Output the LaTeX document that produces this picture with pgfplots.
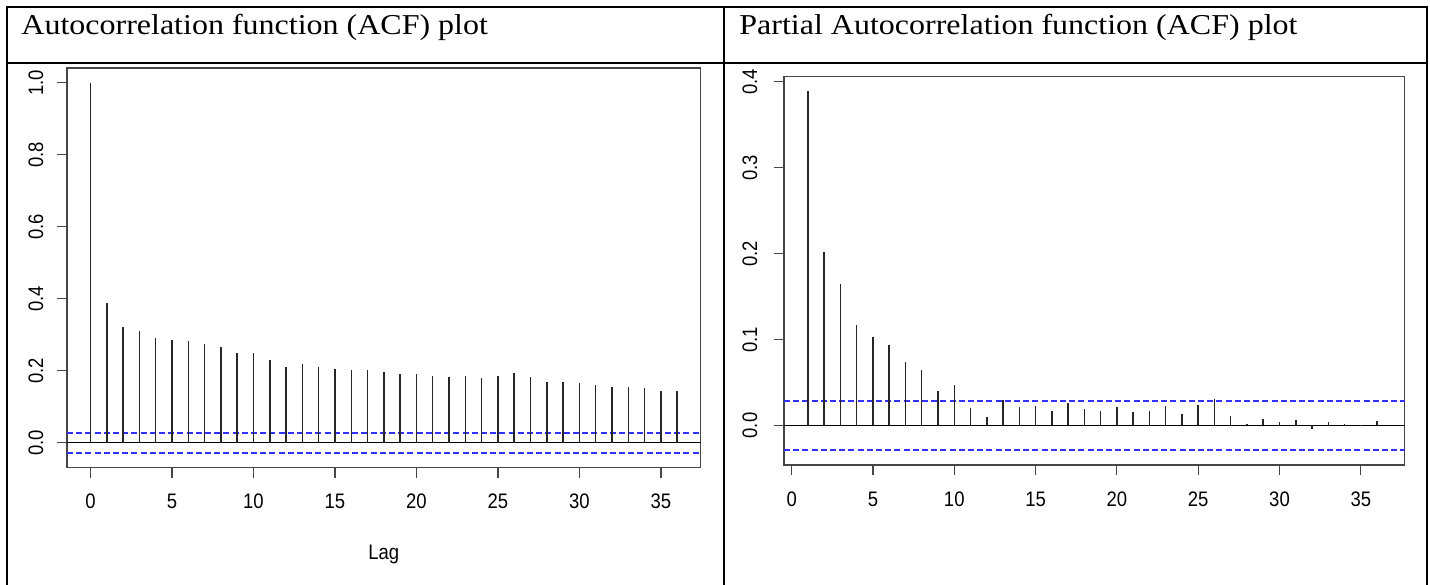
\documentclass[border=0pt]{standalone}
\usepackage{pgfplots}
\pgfplotsset{compat=1.18}
\usepackage{fontspec}
\setmainfont{Liberation Sans}
\newfontfamily\titlefont{Liberation Serif}
\definecolor{rblue}{RGB}{50,50,255}
\definecolor{rframe}{RGB}{70,70,70}

\begin{document}
\begin{tikzpicture}
\useasboundingbox (0,0) rectangle (715pt,292pt);
% table borders
\draw[line width=1pt] (3pt,288.5pt) -- (714pt,288.5pt);
\draw[line width=1pt] (3.5pt,288.5pt) -- (3.5pt,-2pt);
\draw[line width=1pt] (362pt,288.5pt) -- (362pt,-2pt);
\draw[line width=1pt] (713.5pt,288.5pt) -- (713.5pt,-2pt);
\draw[line width=1pt] (3pt,260.5pt) -- (714pt,260.5pt);
% titles
\node[anchor=base west, inner sep=0pt, yscale=0.9, font=\titlefont\fontsize{16}{19}\selectfont] at (10.5pt,274.8pt) {Autocorrelation function (ACF) plot};
\node[anchor=base west, inner sep=0pt, yscale=0.9, font=\titlefont\fontsize{16}{19}\selectfont] at (369.5pt,274.8pt) {Partial Autocorrelation function (ACF) plot};

\pgfplotsset{
  racf/.style={
    scale only axis,
    axis line style={rframe, line width=0.6pt},
    tick style={rframe, line width=0.6pt},
    tick align=outside,
    major tick length=5pt,
    xtick pos=bottom, ytick pos=left,
    xtick={0,5,...,35},
    ticklabel style={font=\fontsize{10.5}{12}\selectfont},
    /pgf/number format/assume math mode=true,
    xticklabel style={anchor=center, yshift=-12pt, xscale=0.88},
    axis background/.style={fill=white},
    clip=false,
  },
  ylab/.style={yticklabel style={anchor=center, xshift=-#1, rotate=90, xscale=0.88, /pgf/number format/.cd, fixed, fixed zerofill, precision=1}},
  zeroline/.style={black, line width=0.5pt},
  bluedash/.style={color=rblue, draw=rblue, line width=0.8pt, dash pattern=on 3pt off 1.6pt},
  stem/.style={ycomb, black!85, line width=0.75pt, mark=none},
}

\pgfplotstableread{
lag acf
0 1.000
1 0.389
2 0.323
3 0.312
4 0.291
5 0.285
6 0.284
7 0.274
8 0.267
9 0.250
10 0.249
11 0.229
12 0.210
13 0.218
14 0.210
15 0.206
16 0.201
17 0.201
18 0.196
19 0.190
20 0.190
21 0.186
22 0.182
23 0.186
24 0.179
25 0.186
26 0.193
27 0.182
28 0.168
29 0.168
30 0.165
31 0.162
32 0.155
33 0.155
34 0.152
35 0.144
36 0.144
}\acfdata

\pgfplotstableread{
lag pacf
1 0.389
2 0.202
3 0.165
4 0.117
5 0.103
6 0.094
7 0.074
8 0.065
9 0.040
10 0.047
11 0.020
12 0.010
13 0.030
14 0.022
15 0.023
16 0.017
17 0.026
18 0.019
19 0.017
20 0.021
21 0.016
22 0.017
23 0.023
24 0.013
25 0.024
26 0.031
27 0.011
28 0.002
29 0.007
30 0.004
31 0.006
32 -0.004
33 0.004
34 0.002
35 0.0005
36 0.005
}\pacfdata

% ACF
\begin{axis}[racf, ylab=10.5pt,
  at={(33.5pt,58.15pt)}, anchor=south west,
  width=316.85pt, height=199.85pt,
  xmin=-1.44, xmax=37.44, ymin=-0.069, ymax=1.041,
  ytick={0,0.2,...,1.0},
  xlabel={Lag},
  xlabel style={at={(axis description cs:0.5,0)}, anchor=center, yshift=-43.6pt, font=\fontsize{10.5}{12}\selectfont, xscale=0.88},
]
\addplot[zeroline] coordinates {(-1.44,0) (37.44,0)};
\addplot[bluedash] coordinates {(-1.44,0.028) (37.44,0.028)};
\addplot[bluedash] coordinates {(-1.44,-0.028) (37.44,-0.028)};
\addplot[stem] table[x=lag, y=acf] {\acfdata};
\end{axis}

% PACF
\begin{axis}[racf, ylab=12pt,
  at={(392pt,59.5pt)}, anchor=south west,
  width=310.35pt, height=194.15pt,
  xmin=-0.47, xmax=37.7, ymin=-0.046, ymax=0.406,
  ytick={0,0.1,...,0.4},
]
\addplot[zeroline] coordinates {(-0.47,0) (37.7,0)};
\addplot[bluedash] coordinates {(-0.47,0.0283) (37.7,0.0283)};
\addplot[bluedash] coordinates {(-0.47,-0.0283) (37.7,-0.0283)};
\addplot[stem] table[x=lag, y=pacf] {\pacfdata};
\end{axis}
\end{tikzpicture}
\end{document}
